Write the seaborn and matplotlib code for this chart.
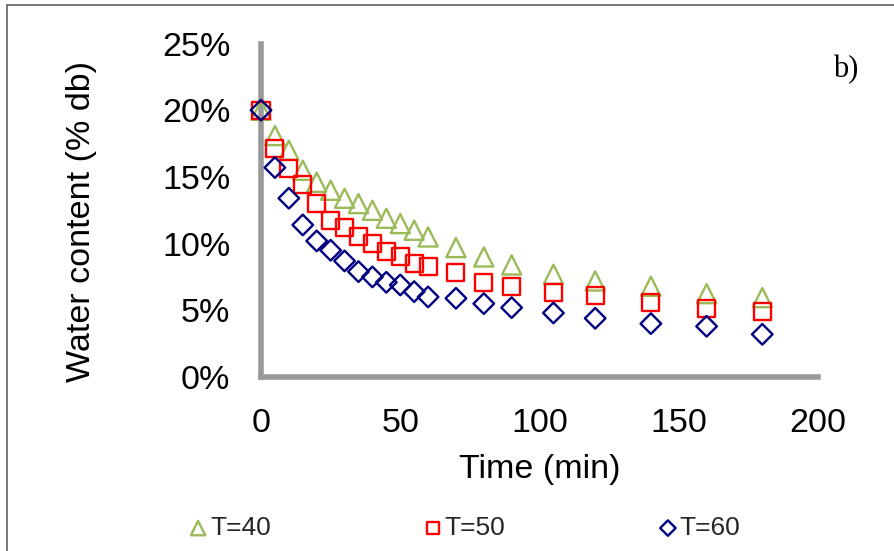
import numpy as np
import pandas as pd
import matplotlib
matplotlib.use("Agg")
import matplotlib.pyplot as plt
import seaborn as sns
from matplotlib.ticker import PercentFormatter, MultipleLocator
from matplotlib.patches import Rectangle

# ---- data ----
time_min = [0, 5, 10, 15, 20, 25, 30, 35, 40, 45, 50, 55, 60, 70, 80, 90, 105, 120, 140, 160, 180]
t40 = [20.0, 18.1, 17.0, 15.5, 14.6, 14.0, 13.4, 13.0, 12.5, 11.9, 11.5, 11.0, 10.5, 9.7, 9.0, 8.4, 7.7, 7.2, 6.8, 6.25, 5.95]
t50 = [20.0, 17.1, 15.6, 14.4, 13.0, 11.7, 11.2, 10.5, 10.0, 9.4, 9.0, 8.5, 8.3, 7.8, 7.1, 6.8, 6.3, 6.1, 5.6, 5.1, 4.9]
t60 = [20.0, 15.7, 13.4, 11.4, 10.2, 9.5, 8.7, 7.9, 7.5, 7.1, 6.9, 6.4, 6.0, 5.9, 5.5, 5.2, 4.8, 4.4, 4.0, 3.8, 3.2]
series_labels = ["T=40", "T=50", "T=60"]
x_ticks = [0, 50, 100, 150, 200]
y_ticks = [0, 5, 10, 15, 20, 25]

df = pd.DataFrame({
    "time": time_min * 3,
    "water": [v / 100 for v in t40 + t50 + t60],
    "series": [series_labels[0]] * len(t40) + [series_labels[1]] * len(t50) + [series_labels[2]] * len(t60),
})

colors = {"T=40": "#9BBB59", "T=50": "#FF0000", "T=60": "#000080"}
markers = {"T=40": "^", "T=50": "s", "T=60": "D"}
sizes = {"T=40": 190, "T=50": 150, "T=60": 110}

sns.set_theme(style="white")
plt.rcParams["font.family"] = ["Liberation Sans", "DejaVu Sans"]

fig = plt.figure(figsize=(8.94, 5.51), dpi=100)
ax = fig.add_axes([261 / 894, 1 - 377 / 551, (818 - 261) / 894, (377 - 43.5) / 551])

for s in series_labels:
    sub = df[df["series"] == s]
    sns.scatterplot(data=sub, x="time", y="water", ax=ax, marker=markers[s],
                    color=colors[s], facecolor="none", edgecolor=colors[s],
                    linewidth=1.7, s=sizes[s], label=s, clip_on=False, zorder=3)

ax.set_xlim(0, 200)
ax.set_ylim(0, 0.25)
ax.set_xticks(x_ticks)
ax.set_yticks([v / 100 for v in y_ticks])
ax.yaxis.set_major_formatter(PercentFormatter(1.0, decimals=0))
ax.tick_params(axis="both", length=0, labelsize=24.5, colors="black")
ax.tick_params(axis="x", pad=22)
ax.tick_params(axis="y", pad=22)

for side in ["top", "right"]:
    ax.spines[side].set_visible(False)
for side in ["left", "bottom"]:
    ax.spines[side].set_color("#999999")
    ax.spines[side].set_linewidth(4)
ax.grid(False)

ax.set_xlabel("Time (min)", fontsize=24.5, color="black", labelpad=11)
ax.set_ylabel("Water content (% db)", fontsize=24.5, color="black", labelpad=47)
ax.yaxis.label.set_y(0.465)

handles, labels = ax.get_legend_handles_labels()
ax.get_legend().remove()
leg = fig.legend(handles, labels, loc="center", bbox_to_anchor=(466 / 894, 1 - 528 / 551),
                 ncol=3, frameon=False, fontsize=19, handlelength=0.5, handletextpad=0.2,
                 columnspacing=5.9, borderpad=0, markerscale=0.75)

fig.text(846 / 894, 1 - 70 / 551, "b)", fontsize=22, family=["Liberation Serif", "DejaVu Serif"],
         ha="center", va="center", color="black")

fig.patches.append(Rectangle((7 / 894, -0.05), 1.2, 1 - 5 / 551 + 0.05, transform=fig.transFigure,
                             fill=False, edgecolor="#606060", linewidth=1.2, zorder=0))

fig.savefig("out.png", dpi=100)
